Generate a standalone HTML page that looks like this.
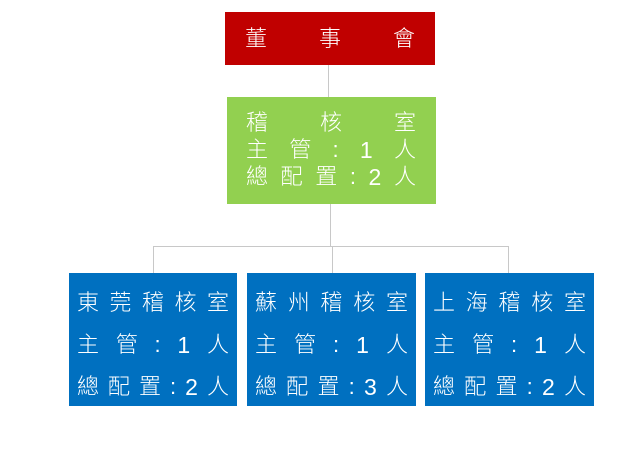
<!DOCTYPE html>
<html><head><meta charset="utf-8"><style>
body{margin:0;width:639px;height:450px;background:#fff;position:relative;overflow:hidden;font-family:"Liberation Sans","Noto Sans CJK TC",sans-serif;color:#fff}
.b{position:absolute;box-sizing:border-box}
.row{position:absolute;display:flex;justify-content:space-between;align-items:center;font-size:22px;line-height:26px;height:26px;font-weight:300}
.d{font-size:23px}
.l{position:absolute;background:#c8c8c8}
</style></head><body>
<div class="l" style="left:328px;top:65px;width:1px;height:32px"></div>
<div class="l" style="left:330px;top:204px;width:1px;height:43px"></div>
<div class="l" style="left:153px;top:246px;width:356px;height:1px"></div>
<div class="l" style="left:153px;top:246px;width:1px;height:27px"></div>
<div class="l" style="left:332px;top:246px;width:1px;height:27px"></div>
<div class="l" style="left:508px;top:246px;width:1px;height:27px"></div>

<div class="b" style="left:225px;top:12px;width:210px;height:53px;background:#c00000"></div>
<div class="row" style="left:245px;top:26px;width:170px"><span>董</span><span>事</span><span>會</span></div>

<div class="b" style="left:227px;top:97px;width:209px;height:107px;background:#92d050"></div>
<div class="row" style="left:246px;top:110px;width:170px"><span>稽</span><span>核</span><span>室</span></div>
<div class="row" style="left:246px;top:137px;width:170px"><span>主</span><span>管</span><span>:</span><span class="d">1</span><span>人</span></div>
<div class="row" style="left:246px;top:164px;width:170px"><span>總</span><span>配</span><span>置</span><span>:</span><span class="d">2</span><span>人</span></div>

<div class="b" style="left:69px;top:273px;width:168px;height:133px;background:#0070c0"></div>
<div class="row" style="left:77px;top:290px;width:152px"><span>東</span><span>莞</span><span>稽</span><span>核</span><span>室</span></div>
<div class="row" style="left:77px;top:332px;width:152px"><span>主</span><span>管</span><span>:</span><span class="d">1</span><span>人</span></div>
<div class="row" style="left:77px;top:374px;width:152px"><span>總</span><span>配</span><span>置</span><span>:</span><span class="d">2</span><span>人</span></div>

<div class="b" style="left:247px;top:273px;width:169px;height:133px;background:#0070c0"></div>
<div class="row" style="left:255px;top:290px;width:153px"><span>蘇</span><span>州</span><span>稽</span><span>核</span><span>室</span></div>
<div class="row" style="left:255px;top:332px;width:153px"><span>主</span><span>管</span><span>:</span><span class="d">1</span><span>人</span></div>
<div class="row" style="left:255px;top:374px;width:153px"><span>總</span><span>配</span><span>置</span><span>:</span><span class="d">3</span><span>人</span></div>

<div class="b" style="left:425px;top:273px;width:169px;height:133px;background:#0070c0"></div>
<div class="row" style="left:433px;top:290px;width:153px"><span>上</span><span>海</span><span>稽</span><span>核</span><span>室</span></div>
<div class="row" style="left:433px;top:332px;width:153px"><span>主</span><span>管</span><span>:</span><span class="d">1</span><span>人</span></div>
<div class="row" style="left:433px;top:374px;width:153px"><span>總</span><span>配</span><span>置</span><span>:</span><span class="d">2</span><span>人</span></div>
</body></html>
